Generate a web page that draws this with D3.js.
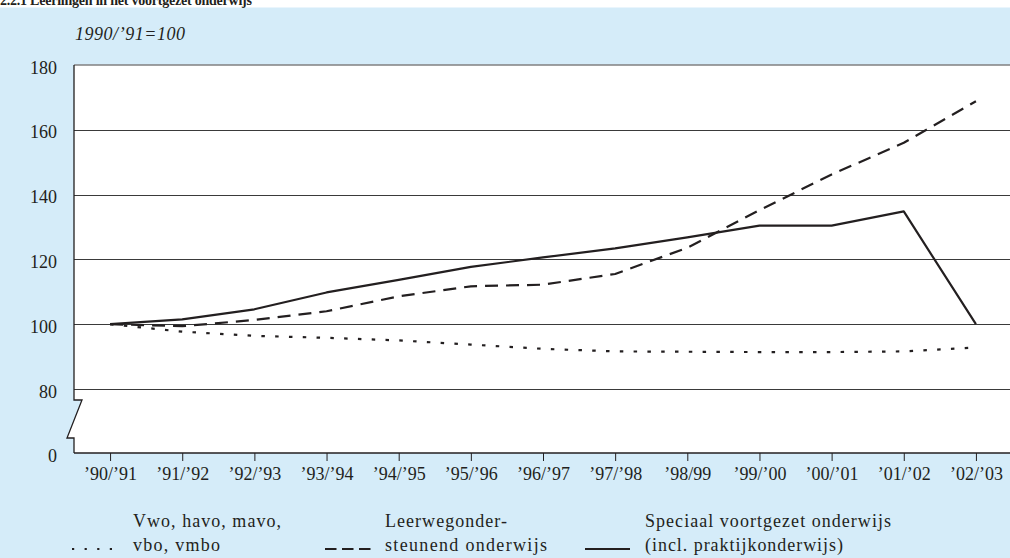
<!DOCTYPE html>
<html>
<head>
<meta charset="utf-8">
<script src="https://cdn.jsdelivr.net/npm/d3@7"></script>
<style>
  html, body { margin: 0; padding: 0; background: #ffffff; }
  svg { display: block; }
  text { font-family: "Liberation Serif", "Times New Roman", serif; fill: #231f20; }
</style>
</head>
<body>
<svg id="chart" width="1010" height="558"></svg>
<script>
const categories = ["’90/’91","’91/’92","’92/’93","’93/’94","’94/’95","’95/’96","’96/’97","’97/’98","’98/99","’99/’00","’00/’01","’01/’02","’02/’03"];
const vwoHavo = [100, 97.7, 96.4, 95.8, 95, 93.7, 92.4, 91.6, 91.5, 91.4, 91.4, 91.6, 92.8];
const leerweg = [100, 99.4, 101.3, 104, 108.6, 111.7, 112.2, 115.5, 123.6, 135.2, 146.2, 156, 168.8];
const speciaal = [100, 101.5, 104.6, 109.8, 113.7, 117.7, 120.6, 123.4, 126.8, 130.4, 130.4, 134.8, 100];
const yTicks = [0, 80, 100, 120, 140, 160, 180];
const gridTicks = [80, 100, 120, 140, 160];
const seriesNames = [["Vwo, havo, mavo,", "vbo, vmbo"], ["Leerwegonder-", "steunend onderwijs"], ["Speciaal voortgezet onderwijs", "(incl. praktijkonderwijs)"]];
const titleText = "2.2.1  Leerlingen in het voortgezet onderwijs";
const unitText = "1990/’91=100";

(function () {
const svg = d3.select("#chart");
const W = 1010, H = 558;
const ink = "#231f20";
const pL = 74, pR = 1010, pT = 65, pB = 453;

const x = d3.scalePoint().domain(categories).range([pL, 1012]).padding(0.5);
const y = d3.scaleLinear().domain([0, 80, 180]).range([pB, 389, pT]);

// background
svg.append("rect").attr("x", 0).attr("y", 7.5).attr("width", W).attr("height", H - 7.5).attr("fill", "#d5ecf9");

// title (partially cut off by the crop, as in the reference)
svg.append("text").attr("x", 0).attr("y", 5).attr("font-size", 14).attr("font-weight", "bold")
  .attr("textLength", 252).attr("lengthAdjust", "spacing").text(titleText);

// white plot area with broken-axis zigzag on left
const brkTop = 400, brkBot = 438;
const plotPoly = [[pL, pT], [pR, pT], [pR, pB], [pL, pB], [pL, brkBot], [67, brkBot], [82, brkTop], [pL, brkTop]];
svg.append("path").attr("d", d3.line()(plotPoly) + "Z").attr("fill", "#ffffff");

// gridlines
svg.append("g").selectAll("line").data(gridTicks).join("line")
  .attr("x1", pL).attr("x2", pR)
  .attr("y1", d => Math.round(y(d)) + 0.5).attr("y2", d => Math.round(y(d)) + 0.5)
  .attr("stroke", "#3a3a3a").attr("stroke-width", 1);
// top border
svg.append("line").attr("x1", pL).attr("x2", pR).attr("y1", y(180)).attr("y2", y(180))
  .attr("stroke", "#808080").attr("stroke-width", 1.5);

// left axis with break
svg.append("path")
  .attr("d", d3.line()([[pL, pT], [pL, brkTop], [82, brkTop], [67, brkBot], [pL, brkBot], [pL, pB]]))
  .attr("fill", "none").attr("stroke", ink).attr("stroke-width", 1.3);

// x axis
const xAxis = d3.axisBottom(x).tickSize(8).tickSizeOuter(0);
const gx = svg.append("g").attr("transform", `translate(0,${pB})`).call(xAxis);
gx.select(".domain").attr("d", `M${pL},0H${pR}`).attr("stroke", ink).attr("stroke-width", 1.3);
gx.selectAll(".tick line").attr("stroke", ink).attr("stroke-width", 1);
gx.selectAll(".tick text").attr("font-size", 18).attr("font-family", "Liberation Serif")
  .attr("fill", ink).attr("y", 27).attr("dy", 0);

// y labels (no ticks)
const yAxis = d3.axisLeft(y).tickValues(yTicks).tickSize(0).tickPadding(17);
const gy = svg.append("g").attr("transform", `translate(${pL},0)`).call(yAxis);
gy.select(".domain").remove();
gy.selectAll(".tick text").attr("font-size", 18).attr("font-family", "Liberation Serif")
  .attr("fill", ink).attr("dy", "0.45em");

// unit label
svg.append("text").attr("x", 75).attr("y", 40).attr("font-size", 18).attr("font-style", "italic")
  .attr("textLength", 110).attr("lengthAdjust", "spacing").text(unitText);

// lines
const line = d3.line().x((d, i) => x(categories[i])).y(d => y(d));
const styles = [
  { data: vwoHavo, dash: "3.5,10.3", w: 2.2 },
  { data: leerweg, dash: "13,8", w: 2.2 },
  { data: speciaal, dash: null, w: 2.2 }
];
styles.forEach(s => {
  svg.append("path").datum(s.data).attr("d", line)
    .attr("fill", "none").attr("stroke", ink).attr("stroke-width", s.w)
    .attr("stroke-dasharray", s.dash).attr("stroke-linejoin", "round");
});

// legend
const legend = [
  { x1: 72, x2: 114, dash: "2.2,10.4", tx: 133, widths: [148, 87] },
  { x1: 325, x2: 371, dash: "11.5,5.5", tx: 385, widths: [122, 162] },
  { x1: 585, x2: 630, dash: null, tx: 645, widths: [246, 198] }
];
legend.forEach((l, i) => {
  svg.append("line").attr("x1", l.x1).attr("x2", l.x2).attr("y1", 549).attr("y2", 549)
    .attr("stroke", ink).attr("stroke-width", 2.2).attr("stroke-dasharray", l.dash);
  [527, 551].forEach((yy, k) => {
    svg.append("text").attr("x", l.tx).attr("y", yy).attr("font-size", 18)
      .attr("textLength", l.widths[k]).attr("lengthAdjust", "spacing")
      .text(seriesNames[i][k]);
  });
});
})();
</script>
</body>
</html>
